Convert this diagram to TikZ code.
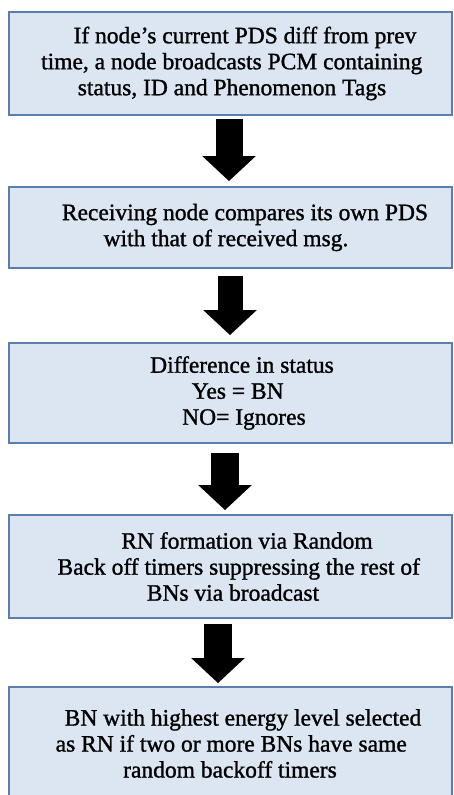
\documentclass[tikz,border=0pt]{standalone}
\usepackage{fontspec}
\setmainfont{Liberation Serif}
\newfontfamily\boxfont[FakeBold=1.2]{Liberation Serif}
\usetikzlibrary{arrows.meta,calc}
\definecolor{boxfill}{RGB}{220,230,242}
\definecolor{boxline}{RGB}{92,125,175}
\newcommand\shl[2]{\hspace*{#1}#2\hspace*{-#1}}
\begin{document}
\begin{tikzpicture}[x=1pt,y=-1pt,
  stepbox/.style={draw=boxline, line width=1.8pt, fill=boxfill, minimum width=443pt,
    inner sep=0pt, align=center, font=\boxfont\fontsize{23.5}{26}\selectfont, text=black},
  bigarrow/.style={line width=27pt, draw=black, -{Triangle[width=52pt,length=25pt]}}]
\useasboundingbox (0,0) rectangle (454,795);
\clip (0,0) rectangle (454,795);
\node[stepbox, minimum height=103pt] (b1) at (230.5,63.5)
  {\shl{14.5pt}{If node’s current PDS diff from prev}\\
   \shl{2.5pt}{time, a node broadcasts PCM containing}\\
   \shl{1.5pt}{status, ID and Phenomenon Tags}};
\node[stepbox, minimum height=81pt] (b2) at (230.5,227.5)
  {\shl{14.5pt}{Receiving node compares its own PDS}\\
   \shl{-4.5pt}{with that of received msg.}};
\node[stepbox, minimum height=100pt] (b3) at (230.5,393)
  {\shl{11.5pt}{Difference in status}\\
   \shl{14.5pt}{Yes = BN}\\
   \shl{13.5pt}{NO= Ignores}};
\node[stepbox, minimum height=103pt] (b4) at (230.5,566.5)
  {\shl{16.5pt}{RN formation via Random}\\
   \shl{16.5pt}{Back off timers suppressing the rest of}\\
   \shl{2.5pt}{BNs via broadcast}};
\node[stepbox, minimum height=113pt] (b5) at (230.5,743.5)
  {\shl{12.5pt}{BN with highest energy level selected}\\
   \shl{1.5pt}{as RN if two or more BNs have same}\\
   \shl{-0.5pt}{random backoff timers}};
\draw[bigarrow] ($(b1.south)+(-1.5,3)$) -- ($(b2.north)+(-1.5,-5)$);
\draw[bigarrow, line width=25pt] ($(b2.south)+(-0.5,7)$) -- ($(b3.north)+(-0.5,-7)$);
\draw[bigarrow, line width=28pt] ($(b3.south)+(-5.5,9)$) -- ($(b4.north)+(-5.5,-4)$);
\draw[bigarrow, line width=28pt] ($(b4.south)+(-12.5,5)$) -- ($(b5.north)+(-12.5,-3)$);
\end{tikzpicture}
\end{document}
